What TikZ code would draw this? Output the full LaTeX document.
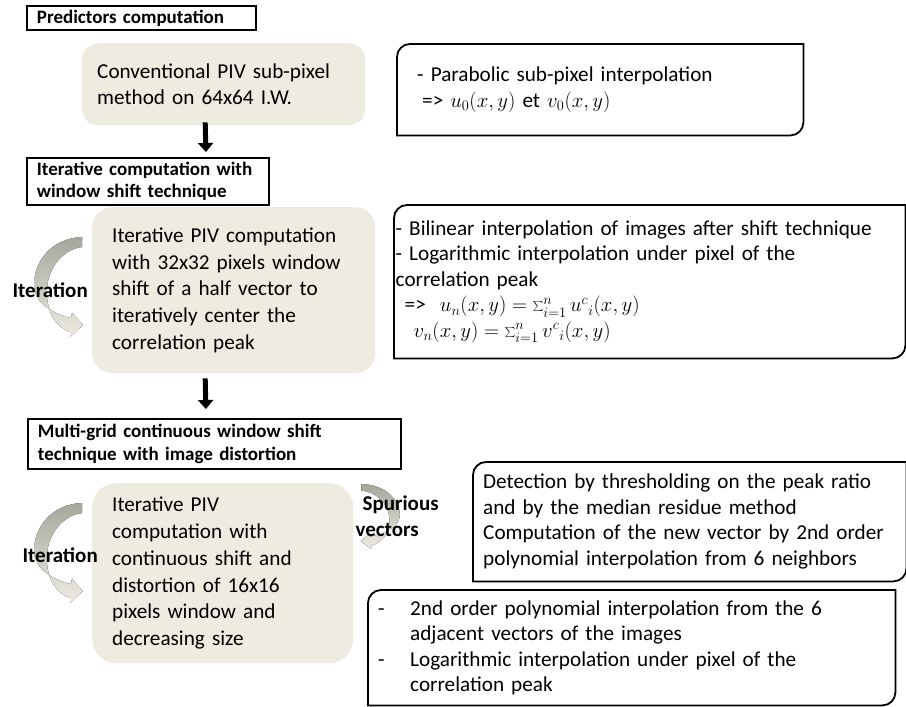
\documentclass[tikz,border=0pt]{standalone}
\usepackage{fontspec}
\setmainfont{Carlito}
\usetikzlibrary{positioning,arrows.meta,calc}
\definecolor{boxfill}{RGB}{238,236,225}
\definecolor{arrowdark}{RGB}{166,166,156}
\definecolor{arrowlight}{RGB}{238,236,226}
\tikzset{
  headbox/.style={draw,line width=1.8pt,anchor=north west,align=left,inner xsep=10pt,inner ysep=0pt,
    font=\fontsize{19}{22.5}\selectfont\bfseries},
  stepbox/.style={fill=boxfill,rounded corners=20pt,anchor=north west,align=left,inner xsep=20pt,
    font=\fontsize{21.2}{26.7}\selectfont},
  notebox/.style={anchor=north west,align=left,inner ysep=0pt,font=\fontsize{21.2}{25.5}\selectfont},
  looplabel/.style={inner sep=0pt,align=left,font=\fontsize{21}{26}\selectfont\bfseries},
  downarrow/.style={line width=5pt,-{Triangle[width=15pt,length=9pt]}},
  frameline/.style={line width=1.8pt},
  iterarrow/.pic={
    \fill[top color=arrowdark,bottom color=arrowlight]
      (0,0) .. controls (-28,1) and (-48,22) .. (-48,48)
      .. controls (-48,64) and (-32,76) .. (-11,81)
      -- (-10,76) -- (1,88) -- (-12,100) -- (-12,95)
      .. controls (-30,88) and (-36,70) .. (-35,52)
      .. controls (-34,30) and (-18,12) .. (0,10) -- cycle;
  },
}
% frame with the upper left and lower right corners rounded
\newcommand\noteframe[1]{%
  \draw[frameline] (#1.south west) -- ([yshift=-13pt]#1.north west)
    arc[start angle=180,end angle=90,radius=13pt] -- (#1.north east)
    -- ([yshift=13pt]#1.south east) arc[start angle=0,end angle=-90,radius=13pt] -- cycle;}

\begin{document}
\begin{tikzpicture}[x=1pt,y=-1pt]
\useasboundingbox[fill=white] (0,0) rectangle (906,707);

% left column
\node[headbox,text width=209pt,minimum height=24pt] (head1) at (26,5) {Predictors computation};
\node[stepbox,inner xsep=15pt,rounded corners=16pt,text width=253pt,minimum height=82pt] (stepA) at (82,43)
  {Conventional PIV sub-pixel\\method on 64x64 I.W.};
\node[headbox,text width=222pt,minimum height=47pt] (head2) at (26,157)
  {Iterative computation with\\window shift technique};
\node[stepbox,text width=243pt,minimum height=166pt] (stepB) at (92,207)
  {Iterative PIV computation\\with 32x32 pixels window\\shift of a half vector to\\iteratively center the\\correlation peak};
\node[headbox,text width=353pt,minimum height=50pt] (head3) at (27,418)
  {Multi-grid continuous window shift\\technique with image distortion};
\node[stepbox,rounded corners=24pt,text width=221pt,minimum height=180pt] (stepC) at (92,483)
  {Iterative PIV\\computation with\\continuous shift and\\distortion of 16x16\\pixels window and\\decreasing size};

\draw[downarrow] ([xshift=-18.5pt,yshift=3pt]stepA.south) -- ([xshift=58pt,yshift=5pt]head2.north);
\draw[downarrow] ([xshift=-28.5pt,yshift=-5pt]stepB.south) -- ([xshift=-8.5pt,yshift=9pt]head3.north);

% loops
\pic at ([xshift=-10pt,yshift=-30pt]stepB.north west) {iterarrow};
\pic at ([xshift=-10pt,yshift=-20pt]stepC.north west) {iterarrow};
\pic[xscale=-0.8,yscale=0.65] at ([xshift=8pt,yshift=-1pt]stepC.north east) {iterarrow};

\node[looplabel,left=4pt of stepB] (iterB) {Iteration};
\node[looplabel,anchor=east] (iterC) at ([xshift=6pt,yshift=18pt]stepC.west) {Iteration};
\node[looplabel,anchor=west] (spur) at ([xshift=2pt,yshift=57pt]stepC.east) {\hspace*{7pt}Spurious\\vectors};

% notes
\node[notebox,inner xsep=20pt,text width=366pt,minimum height=91pt] (note1) at (397,44)
  {- Parabolic sub-pixel interpolation\\\hspace*{5pt}=> $u_0(x,y)$ et $v_0(x,y)$};
\node[notebox,inner xsep=1.5pt,text width=508pt,minimum height=153pt] (note2) at (394,205)
  {- Bilinear interpolation of images after shift technique\\
   - Logarithmic interpolation under pixel of the\\
   correlation peak\\
   \hspace*{9pt}=>\ \ $u_n(x,y)=\sum_{i=1}^{n}u^{c}{}_{i}(x,y)$\\
   \hspace*{18pt}$v_n(x,y)=\sum_{i=1}^{n}v^{c}{}_{i}(x,y)$};
\node[notebox,inner xsep=10pt,text width=413pt,minimum height=119pt] (note3) at (473,462)
  {Detection by thresholding on the peak ratio\\
   and by the median residue method\\
   Computation of the new vector by 2nd order\\
   polynomial interpolation from 6 neighbors};
\node[notebox,inner xsep=10pt,text width=507pt,minimum height=115pt] (note4) at (368,590)
  {\makebox[32pt][l]{-}2nd order polynomial interpolation from the 6\\
   \hspace*{32pt}adjacent vectors of the images\\
   \makebox[32pt][l]{-}Logarithmic interpolation under pixel of the\\
   \hspace*{32pt}correlation peak};

\noteframe{note1}
\noteframe{note2}
\noteframe{note3}
\noteframe{note4}

\end{tikzpicture}
\end{document}
